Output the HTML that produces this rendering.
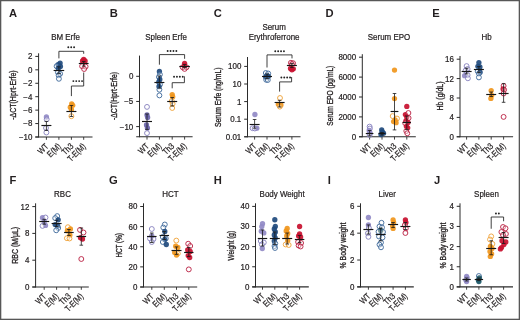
<!DOCTYPE html>
<html><head><meta charset="utf-8"><style>
html,body{margin:0;padding:0;background:#fff;}
#fig{position:relative;width:520px;height:320px;overflow:hidden;background:#fff;}
svg{display:block;will-change:transform;}
svg text{font-family:"Liberation Sans", sans-serif;fill:#231f20;}
svg text.t{stroke:#231f20;stroke-width:0.22px;}
svg text.yt{stroke:#231f20;stroke-width:0.32px;}
</style></head><body><div id="fig">
<svg width="520" height="320" viewBox="0 0 520 320">
<rect x="0" y="0" width="520" height="320" fill="#fff"/>
<rect x="0" y="0" width="520" height="1.25" fill="#575757"/>
<rect x="0" y="0" width="1.3" height="320" fill="#575757"/>
<rect x="518.7" y="0" width="1.3" height="320" fill="#575757"/>
<rect x="0" y="318.7" width="520" height="1.3" fill="#575757"/>
<text transform="translate(9.00,16.50) scale(1.0,1)" font-size="11.2" text-anchor="start" font-weight="bold" >A</text>
<text transform="translate(65.50,39.80) scale(0.96,1)" font-size="8.3" text-anchor="middle" font-weight="normal" class="t" >BM Erfe</text>
<text transform="translate(16.00,95.10) rotate(-90)" font-size="8.9" class="yt" text-anchor="middle" textLength="49.5" lengthAdjust="spacingAndGlyphs">-ΔCT(Hprt-Erfe)</text>
<line x1="38.60" y1="53.30" x2="38.60" y2="137.45" stroke="#2b2b2b" stroke-width="1.0"/>
<line x1="35.30" y1="137.00" x2="92.50" y2="137.00" stroke="#2b2b2b" stroke-width="1.1"/>
<line x1="35.30" y1="56.40" x2="38.60" y2="56.40" stroke="#2b2b2b" stroke-width="1.0"/>
<text transform="translate(32.40,59.30) scale(0.97,1)" font-size="8.2" text-anchor="end" font-weight="normal" class="t" >2</text>
<line x1="35.30" y1="69.83" x2="38.60" y2="69.83" stroke="#2b2b2b" stroke-width="1.0"/>
<text transform="translate(32.40,72.73) scale(0.97,1)" font-size="8.2" text-anchor="end" font-weight="normal" class="t" >0</text>
<line x1="35.30" y1="83.27" x2="38.60" y2="83.27" stroke="#2b2b2b" stroke-width="1.0"/>
<text transform="translate(32.40,86.17) scale(0.97,1)" font-size="8.2" text-anchor="end" font-weight="normal" class="t" >−2</text>
<line x1="35.30" y1="96.70" x2="38.60" y2="96.70" stroke="#2b2b2b" stroke-width="1.0"/>
<text transform="translate(32.40,99.60) scale(0.97,1)" font-size="8.2" text-anchor="end" font-weight="normal" class="t" >−4</text>
<line x1="35.30" y1="110.13" x2="38.60" y2="110.13" stroke="#2b2b2b" stroke-width="1.0"/>
<text transform="translate(32.40,113.03) scale(0.97,1)" font-size="8.2" text-anchor="end" font-weight="normal" class="t" >−6</text>
<line x1="35.30" y1="123.57" x2="38.60" y2="123.57" stroke="#2b2b2b" stroke-width="1.0"/>
<text transform="translate(32.40,126.47) scale(0.97,1)" font-size="8.2" text-anchor="end" font-weight="normal" class="t" >−8</text>
<line x1="35.30" y1="137.00" x2="38.60" y2="137.00" stroke="#2b2b2b" stroke-width="1.0"/>
<text transform="translate(32.40,139.90) scale(0.97,1)" font-size="8.2" text-anchor="end" font-weight="normal" class="t" >−10</text>
<line x1="46.40" y1="137.00" x2="46.40" y2="139.80" stroke="#2b2b2b" stroke-width="0.9"/>
<text transform="translate(49.00,146.80) rotate(-45) scale(0.81,1)" font-size="8.8" class="t" text-anchor="end">WT</text>
<line x1="58.90" y1="137.00" x2="58.90" y2="139.80" stroke="#2b2b2b" stroke-width="0.9"/>
<text transform="translate(61.50,146.80) rotate(-45) scale(0.81,1)" font-size="8.8" class="t" text-anchor="end">E(M)</text>
<line x1="71.40" y1="137.00" x2="71.40" y2="139.80" stroke="#2b2b2b" stroke-width="0.9"/>
<text transform="translate(74.00,146.80) rotate(-45) scale(0.81,1)" font-size="8.8" class="t" text-anchor="end">Th3</text>
<line x1="83.70" y1="137.00" x2="83.70" y2="139.80" stroke="#2b2b2b" stroke-width="0.9"/>
<text transform="translate(86.30,146.80) rotate(-45) scale(0.81,1)" font-size="8.8" class="t" text-anchor="end">T-E(M)</text>
<circle cx="46.40" cy="117.00" r="2.65" fill="#918ac6" fill-opacity="0.92"/>
<circle cx="46.70" cy="119.30" r="2.45" fill="white" fill-opacity="0.35" stroke="#857fbd" stroke-width="0.9"/>
<circle cx="46.00" cy="128.00" r="2.45" fill="white" fill-opacity="0.35" stroke="#857fbd" stroke-width="0.9"/>
<circle cx="46.40" cy="132.50" r="2.45" fill="white" fill-opacity="0.35" stroke="#857fbd" stroke-width="0.9"/>
<circle cx="60.10" cy="63.10" r="2.65" fill="#1f4a7d" fill-opacity="0.92"/>
<circle cx="58.10" cy="64.60" r="2.65" fill="#1f4a7d" fill-opacity="0.92"/>
<circle cx="56.60" cy="66.20" r="2.45" fill="white" fill-opacity="0.35" stroke="#3b6699" stroke-width="0.9"/>
<circle cx="60.40" cy="66.50" r="2.65" fill="#1f4a7d" fill-opacity="0.92"/>
<circle cx="58.30" cy="68.20" r="2.65" fill="#1f4a7d" fill-opacity="0.92"/>
<circle cx="57.90" cy="72.30" r="2.45" fill="white" fill-opacity="0.35" stroke="#3b6699" stroke-width="0.9"/>
<circle cx="60.10" cy="73.80" r="2.45" fill="white" fill-opacity="0.35" stroke="#3b6699" stroke-width="0.9"/>
<circle cx="58.60" cy="75.20" r="2.45" fill="white" fill-opacity="0.35" stroke="#3b6699" stroke-width="0.9"/>
<circle cx="58.90" cy="78.80" r="2.45" fill="white" fill-opacity="0.35" stroke="#3b6699" stroke-width="0.9"/>
<circle cx="71.70" cy="103.90" r="2.65" fill="#f0961c" fill-opacity="0.92"/>
<circle cx="72.70" cy="105.30" r="2.65" fill="#f0961c" fill-opacity="0.92"/>
<circle cx="70.30" cy="107.20" r="2.65" fill="#f0961c" fill-opacity="0.92"/>
<circle cx="71.40" cy="109.50" r="2.65" fill="#f0961c" fill-opacity="0.92"/>
<circle cx="71.40" cy="116.20" r="2.45" fill="white" fill-opacity="0.35" stroke="#efa035" stroke-width="0.9"/>
<circle cx="83.70" cy="59.30" r="2.65" fill="#c8102f" fill-opacity="0.92"/>
<circle cx="82.50" cy="60.90" r="2.65" fill="#c8102f" fill-opacity="0.92"/>
<circle cx="85.10" cy="61.00" r="2.65" fill="#c8102f" fill-opacity="0.92"/>
<circle cx="82.10" cy="66.20" r="2.45" fill="white" fill-opacity="0.35" stroke="#b91d40" stroke-width="0.9"/>
<circle cx="85.60" cy="66.60" r="2.45" fill="white" fill-opacity="0.35" stroke="#b91d40" stroke-width="0.9"/>
<circle cx="84.10" cy="69.00" r="2.45" fill="white" fill-opacity="0.35" stroke="#b91d40" stroke-width="0.9"/>
<line x1="41.40" y1="125.50" x2="51.40" y2="125.50" stroke="#151515" stroke-width="1.15"/>
<line x1="46.40" y1="121.40" x2="46.40" y2="130.40" stroke="#1a1a1a" stroke-width="0.8"/>
<line x1="44.60" y1="121.40" x2="48.20" y2="121.40" stroke="#1a1a1a" stroke-width="0.8"/>
<line x1="44.60" y1="130.40" x2="48.20" y2="130.40" stroke="#1a1a1a" stroke-width="0.8"/>
<line x1="53.60" y1="70.50" x2="64.20" y2="70.50" stroke="#151515" stroke-width="1.15"/>
<line x1="58.90" y1="66.80" x2="58.90" y2="73.60" stroke="#1a1a1a" stroke-width="0.8"/>
<line x1="57.10" y1="66.80" x2="60.70" y2="66.80" stroke="#1a1a1a" stroke-width="0.8"/>
<line x1="57.10" y1="73.60" x2="60.70" y2="73.60" stroke="#1a1a1a" stroke-width="0.8"/>
<line x1="66.40" y1="111.50" x2="76.40" y2="111.50" stroke="#151515" stroke-width="1.15"/>
<line x1="71.40" y1="105.50" x2="71.40" y2="116.50" stroke="#1a1a1a" stroke-width="0.8"/>
<line x1="69.60" y1="105.50" x2="73.20" y2="105.50" stroke="#1a1a1a" stroke-width="0.8"/>
<line x1="69.60" y1="116.50" x2="73.20" y2="116.50" stroke="#1a1a1a" stroke-width="0.8"/>
<line x1="78.80" y1="63.50" x2="88.60" y2="63.50" stroke="#151515" stroke-width="1.15"/>
<line x1="83.70" y1="61.50" x2="83.70" y2="66.00" stroke="#1a1a1a" stroke-width="0.8"/>
<line x1="81.90" y1="61.50" x2="85.50" y2="61.50" stroke="#1a1a1a" stroke-width="0.8"/>
<line x1="81.90" y1="66.00" x2="85.50" y2="66.00" stroke="#1a1a1a" stroke-width="0.8"/>
<polyline points="58.90,58.40 58.90,51.30 83.70,51.30 83.70,53.80" fill="none" stroke="#2b2b2b" stroke-width="0.9"/>
<circle cx="68.30" cy="47.30" r="0.95" fill="#222"/>
<circle cx="71.20" cy="47.30" r="0.95" fill="#222"/>
<circle cx="74.10" cy="47.30" r="0.95" fill="#222"/>
<polyline points="71.40,96.10 71.40,86.00 83.70,86.00 83.70,72.50" fill="none" stroke="#2b2b2b" stroke-width="0.9"/>
<circle cx="73.35" cy="81.10" r="0.95" fill="#222"/>
<circle cx="76.25" cy="81.10" r="0.95" fill="#222"/>
<circle cx="79.15" cy="81.10" r="0.95" fill="#222"/>
<circle cx="82.05" cy="81.10" r="0.95" fill="#222"/>
<text transform="translate(109.80,16.50) scale(1.0,1)" font-size="11.2" text-anchor="start" font-weight="bold" >B</text>
<text transform="translate(166.10,39.80) scale(0.96,1)" font-size="8.3" text-anchor="middle" font-weight="normal" class="t" >Spleen Erfe</text>
<text transform="translate(116.70,96.00) rotate(-90)" font-size="8.9" class="yt" text-anchor="middle" textLength="48" lengthAdjust="spacingAndGlyphs">-ΔCT(Hprt-Erfe)</text>
<line x1="139.50" y1="55.60" x2="139.50" y2="137.25" stroke="#2b2b2b" stroke-width="1.0"/>
<line x1="136.20" y1="136.80" x2="192.60" y2="136.80" stroke="#2b2b2b" stroke-width="1.1"/>
<line x1="136.20" y1="76.30" x2="139.50" y2="76.30" stroke="#2b2b2b" stroke-width="1.0"/>
<text transform="translate(133.30,79.20) scale(0.97,1)" font-size="8.2" text-anchor="end" font-weight="normal" class="t" >0</text>
<line x1="136.20" y1="101.45" x2="139.50" y2="101.45" stroke="#2b2b2b" stroke-width="1.0"/>
<text transform="translate(133.30,104.35) scale(0.97,1)" font-size="8.2" text-anchor="end" font-weight="normal" class="t" >−5</text>
<line x1="136.20" y1="126.60" x2="139.50" y2="126.60" stroke="#2b2b2b" stroke-width="1.0"/>
<text transform="translate(133.30,129.50) scale(0.97,1)" font-size="8.2" text-anchor="end" font-weight="normal" class="t" >−10</text>
<line x1="147.00" y1="136.80" x2="147.00" y2="139.60" stroke="#2b2b2b" stroke-width="0.9"/>
<text transform="translate(149.60,146.60) rotate(-45) scale(0.81,1)" font-size="8.8" class="t" text-anchor="end">WT</text>
<line x1="159.40" y1="136.80" x2="159.40" y2="139.60" stroke="#2b2b2b" stroke-width="0.9"/>
<text transform="translate(162.00,146.60) rotate(-45) scale(0.81,1)" font-size="8.8" class="t" text-anchor="end">E(M)</text>
<line x1="172.20" y1="136.80" x2="172.20" y2="139.60" stroke="#2b2b2b" stroke-width="0.9"/>
<text transform="translate(174.80,146.60) rotate(-45) scale(0.81,1)" font-size="8.8" class="t" text-anchor="end">Th3</text>
<line x1="184.60" y1="136.80" x2="184.60" y2="139.60" stroke="#2b2b2b" stroke-width="0.9"/>
<text transform="translate(187.20,146.60) rotate(-45) scale(0.81,1)" font-size="8.8" class="t" text-anchor="end">T-E(M)</text>
<circle cx="147.00" cy="106.90" r="2.45" fill="white" fill-opacity="0.35" stroke="#857fbd" stroke-width="0.9"/>
<circle cx="147.00" cy="115.00" r="2.65" fill="#6c66ac" fill-opacity="0.92"/>
<circle cx="147.60" cy="117.50" r="2.65" fill="#6c66ac" fill-opacity="0.92"/>
<circle cx="146.50" cy="125.00" r="2.65" fill="#6c66ac" fill-opacity="0.92"/>
<circle cx="147.40" cy="128.00" r="2.65" fill="#6c66ac" fill-opacity="0.92"/>
<circle cx="147.00" cy="133.10" r="2.45" fill="white" fill-opacity="0.35" stroke="#857fbd" stroke-width="0.9"/>
<circle cx="159.40" cy="71.50" r="2.65" fill="#1f4a7d" fill-opacity="0.92"/>
<circle cx="159.90" cy="74.50" r="2.45" fill="white" fill-opacity="0.35" stroke="#3b6699" stroke-width="0.9"/>
<circle cx="158.90" cy="77.00" r="2.45" fill="white" fill-opacity="0.35" stroke="#3b6699" stroke-width="0.9"/>
<circle cx="159.80" cy="79.50" r="2.65" fill="#1f4a7d" fill-opacity="0.92"/>
<circle cx="158.80" cy="82.00" r="2.65" fill="#1f4a7d" fill-opacity="0.92"/>
<circle cx="160.00" cy="84.50" r="2.45" fill="white" fill-opacity="0.35" stroke="#3b6699" stroke-width="0.9"/>
<circle cx="159.00" cy="86.50" r="2.65" fill="#1f4a7d" fill-opacity="0.92"/>
<circle cx="159.40" cy="89.70" r="2.45" fill="white" fill-opacity="0.35" stroke="#3b6699" stroke-width="0.9"/>
<circle cx="159.40" cy="95.40" r="2.45" fill="white" fill-opacity="0.35" stroke="#3b6699" stroke-width="0.9"/>
<circle cx="172.20" cy="94.60" r="2.65" fill="#f0961c" fill-opacity="0.92"/>
<circle cx="172.70" cy="96.80" r="2.65" fill="#f0961c" fill-opacity="0.92"/>
<circle cx="171.80" cy="101.00" r="2.45" fill="white" fill-opacity="0.35" stroke="#efa035" stroke-width="0.9"/>
<circle cx="172.60" cy="103.80" r="2.45" fill="white" fill-opacity="0.35" stroke="#efa035" stroke-width="0.9"/>
<circle cx="172.20" cy="108.00" r="2.45" fill="white" fill-opacity="0.35" stroke="#efa035" stroke-width="0.9"/>
<circle cx="184.60" cy="63.30" r="2.65" fill="#c8102f" fill-opacity="0.92"/>
<circle cx="182.70" cy="67.30" r="2.45" fill="white" fill-opacity="0.35" stroke="#b91d40" stroke-width="0.9"/>
<circle cx="186.50" cy="67.30" r="2.45" fill="white" fill-opacity="0.35" stroke="#b91d40" stroke-width="0.9"/>
<circle cx="184.60" cy="68.90" r="2.45" fill="white" fill-opacity="0.35" stroke="#b91d40" stroke-width="0.9"/>
<circle cx="184.60" cy="65.60" r="2.65" fill="#c8102f" fill-opacity="0.92"/>
<line x1="142.00" y1="121.50" x2="152.00" y2="121.50" stroke="#151515" stroke-width="1.15"/>
<line x1="147.00" y1="114.00" x2="147.00" y2="129.40" stroke="#1a1a1a" stroke-width="0.8"/>
<line x1="145.20" y1="114.00" x2="148.80" y2="114.00" stroke="#1a1a1a" stroke-width="0.8"/>
<line x1="145.20" y1="129.40" x2="148.80" y2="129.40" stroke="#1a1a1a" stroke-width="0.8"/>
<line x1="154.40" y1="82.50" x2="164.40" y2="82.50" stroke="#151515" stroke-width="1.15"/>
<line x1="159.40" y1="76.00" x2="159.40" y2="88.00" stroke="#1a1a1a" stroke-width="0.8"/>
<line x1="157.60" y1="76.00" x2="161.20" y2="76.00" stroke="#1a1a1a" stroke-width="0.8"/>
<line x1="157.60" y1="88.00" x2="161.20" y2="88.00" stroke="#1a1a1a" stroke-width="0.8"/>
<line x1="167.20" y1="101.50" x2="177.20" y2="101.50" stroke="#151515" stroke-width="1.15"/>
<line x1="172.20" y1="97.50" x2="172.20" y2="106.00" stroke="#1a1a1a" stroke-width="0.8"/>
<line x1="170.40" y1="97.50" x2="174.00" y2="97.50" stroke="#1a1a1a" stroke-width="0.8"/>
<line x1="170.40" y1="106.00" x2="174.00" y2="106.00" stroke="#1a1a1a" stroke-width="0.8"/>
<line x1="179.30" y1="66.50" x2="189.90" y2="66.50" stroke="#151515" stroke-width="1.15"/>
<line x1="184.60" y1="64.50" x2="184.60" y2="67.80" stroke="#1a1a1a" stroke-width="0.8"/>
<line x1="182.80" y1="64.50" x2="186.40" y2="64.50" stroke="#1a1a1a" stroke-width="0.8"/>
<line x1="182.80" y1="67.80" x2="186.40" y2="67.80" stroke="#1a1a1a" stroke-width="0.8"/>
<polyline points="159.40,64.70 159.40,54.60 184.60,54.60 184.60,58.80" fill="none" stroke="#2b2b2b" stroke-width="0.9"/>
<circle cx="167.65" cy="51.00" r="0.95" fill="#222"/>
<circle cx="170.55" cy="51.00" r="0.95" fill="#222"/>
<circle cx="173.45" cy="51.00" r="0.95" fill="#222"/>
<circle cx="176.35" cy="51.00" r="0.95" fill="#222"/>
<polyline points="172.20,88.30 172.20,82.70 184.40,82.70 184.40,76.30" fill="none" stroke="#2b2b2b" stroke-width="0.9"/>
<circle cx="174.05" cy="76.70" r="0.95" fill="#222"/>
<circle cx="176.95" cy="76.70" r="0.95" fill="#222"/>
<circle cx="179.85" cy="76.70" r="0.95" fill="#222"/>
<circle cx="182.75" cy="76.70" r="0.95" fill="#222"/>
<text transform="translate(213.75,16.50) scale(1.0,1)" font-size="11.2" text-anchor="start" font-weight="bold" >C</text>
<text transform="translate(274.10,30.10) scale(0.96,1)" font-size="8.3" text-anchor="middle" font-weight="normal" class="t" >Serum</text>
<text transform="translate(274.10,40.30) scale(0.96,1)" font-size="8.3" text-anchor="middle" font-weight="normal" class="t" >Erythroferrone</text>
<text transform="translate(220.60,97.30) rotate(-90)" font-size="8.9" class="yt" text-anchor="middle" textLength="59.5" lengthAdjust="spacingAndGlyphs">Serum Erfe (ng/mL)</text>
<line x1="247.50" y1="57.00" x2="247.50" y2="137.25" stroke="#2b2b2b" stroke-width="1.0"/>
<line x1="244.20" y1="136.80" x2="300.50" y2="136.80" stroke="#2b2b2b" stroke-width="1.1"/>
<line x1="244.20" y1="66.40" x2="247.50" y2="66.40" stroke="#2b2b2b" stroke-width="1.0"/>
<text transform="translate(241.30,69.30) scale(0.97,1)" font-size="8.2" text-anchor="end" font-weight="normal" class="t" >100</text>
<line x1="244.20" y1="84.00" x2="247.50" y2="84.00" stroke="#2b2b2b" stroke-width="1.0"/>
<text transform="translate(241.30,86.90) scale(0.97,1)" font-size="8.2" text-anchor="end" font-weight="normal" class="t" >10</text>
<line x1="244.20" y1="101.60" x2="247.50" y2="101.60" stroke="#2b2b2b" stroke-width="1.0"/>
<text transform="translate(241.30,104.50) scale(0.97,1)" font-size="8.2" text-anchor="end" font-weight="normal" class="t" >1</text>
<line x1="244.20" y1="119.20" x2="247.50" y2="119.20" stroke="#2b2b2b" stroke-width="1.0"/>
<text transform="translate(241.30,122.10) scale(0.97,1)" font-size="8.2" text-anchor="end" font-weight="normal" class="t" >0.1</text>
<line x1="244.20" y1="136.80" x2="247.50" y2="136.80" stroke="#2b2b2b" stroke-width="1.0"/>
<text transform="translate(241.30,139.70) scale(0.97,1)" font-size="8.2" text-anchor="end" font-weight="normal" class="t" >0.01</text>
<line x1="254.60" y1="136.80" x2="254.60" y2="139.60" stroke="#2b2b2b" stroke-width="0.9"/>
<text transform="translate(257.20,146.60) rotate(-45) scale(0.81,1)" font-size="8.8" class="t" text-anchor="end">WT</text>
<line x1="267.00" y1="136.80" x2="267.00" y2="139.60" stroke="#2b2b2b" stroke-width="0.9"/>
<text transform="translate(269.60,146.60) rotate(-45) scale(0.81,1)" font-size="8.8" class="t" text-anchor="end">E(M)</text>
<line x1="279.60" y1="136.80" x2="279.60" y2="139.60" stroke="#2b2b2b" stroke-width="0.9"/>
<text transform="translate(282.20,146.60) rotate(-45) scale(0.81,1)" font-size="8.8" class="t" text-anchor="end">Th3</text>
<line x1="291.90" y1="136.80" x2="291.90" y2="139.60" stroke="#2b2b2b" stroke-width="0.9"/>
<text transform="translate(294.50,146.60) rotate(-45) scale(0.81,1)" font-size="8.8" class="t" text-anchor="end">T-E(M)</text>
<circle cx="254.90" cy="114.50" r="2.65" fill="#918ac6" fill-opacity="0.92"/>
<circle cx="252.60" cy="128.20" r="2.45" fill="white" fill-opacity="0.35" stroke="#857fbd" stroke-width="0.9"/>
<circle cx="256.80" cy="128.20" r="2.65" fill="#918ac6" fill-opacity="0.92"/>
<circle cx="254.80" cy="128.50" r="2.45" fill="white" fill-opacity="0.35" stroke="#857fbd" stroke-width="0.9"/>
<circle cx="265.80" cy="73.00" r="2.45" fill="white" fill-opacity="0.35" stroke="#3b6699" stroke-width="0.9"/>
<circle cx="268.20" cy="73.50" r="2.45" fill="white" fill-opacity="0.35" stroke="#3b6699" stroke-width="0.9"/>
<circle cx="267.00" cy="75.50" r="2.45" fill="white" fill-opacity="0.35" stroke="#3b6699" stroke-width="0.9"/>
<circle cx="265.70" cy="77.00" r="2.65" fill="#1f4a7d" fill-opacity="0.92"/>
<circle cx="268.30" cy="76.50" r="2.65" fill="#1f4a7d" fill-opacity="0.92"/>
<circle cx="267.00" cy="77.50" r="2.65" fill="#1f4a7d" fill-opacity="0.92"/>
<circle cx="266.20" cy="79.80" r="2.45" fill="white" fill-opacity="0.35" stroke="#3b6699" stroke-width="0.9"/>
<circle cx="267.80" cy="80.00" r="2.45" fill="white" fill-opacity="0.35" stroke="#3b6699" stroke-width="0.9"/>
<circle cx="280.00" cy="98.00" r="2.45" fill="white" fill-opacity="0.35" stroke="#efa035" stroke-width="0.9"/>
<circle cx="278.40" cy="104.30" r="2.65" fill="#f0961c" fill-opacity="0.92"/>
<circle cx="280.90" cy="105.00" r="2.65" fill="#f0961c" fill-opacity="0.92"/>
<circle cx="279.80" cy="106.60" r="2.45" fill="white" fill-opacity="0.35" stroke="#efa035" stroke-width="0.9"/>
<circle cx="290.90" cy="62.80" r="2.45" fill="white" fill-opacity="0.35" stroke="#b91d40" stroke-width="0.9"/>
<circle cx="293.10" cy="63.20" r="2.45" fill="white" fill-opacity="0.35" stroke="#b91d40" stroke-width="0.9"/>
<circle cx="291.90" cy="64.20" r="2.45" fill="white" fill-opacity="0.35" stroke="#b91d40" stroke-width="0.9"/>
<circle cx="290.50" cy="68.50" r="2.65" fill="#c8102f" fill-opacity="0.92"/>
<circle cx="293.30" cy="68.80" r="2.65" fill="#c8102f" fill-opacity="0.92"/>
<circle cx="291.90" cy="69.80" r="2.65" fill="#c8102f" fill-opacity="0.92"/>
<line x1="249.60" y1="124.50" x2="259.60" y2="124.50" stroke="#151515" stroke-width="1.15"/>
<line x1="254.60" y1="119.50" x2="254.60" y2="128.20" stroke="#1a1a1a" stroke-width="0.8"/>
<line x1="252.80" y1="119.50" x2="256.40" y2="119.50" stroke="#1a1a1a" stroke-width="0.8"/>
<line x1="252.80" y1="128.20" x2="256.40" y2="128.20" stroke="#1a1a1a" stroke-width="0.8"/>
<line x1="262.00" y1="76.50" x2="272.00" y2="76.50" stroke="#151515" stroke-width="1.15"/>
<line x1="267.00" y1="74.00" x2="267.00" y2="78.50" stroke="#1a1a1a" stroke-width="0.8"/>
<line x1="265.20" y1="74.00" x2="268.80" y2="74.00" stroke="#1a1a1a" stroke-width="0.8"/>
<line x1="265.20" y1="78.50" x2="268.80" y2="78.50" stroke="#1a1a1a" stroke-width="0.8"/>
<line x1="274.60" y1="102.50" x2="284.60" y2="102.50" stroke="#151515" stroke-width="1.15"/>
<line x1="279.60" y1="100.30" x2="279.60" y2="107.00" stroke="#1a1a1a" stroke-width="0.8"/>
<line x1="277.80" y1="100.30" x2="281.40" y2="100.30" stroke="#1a1a1a" stroke-width="0.8"/>
<line x1="277.80" y1="107.00" x2="281.40" y2="107.00" stroke="#1a1a1a" stroke-width="0.8"/>
<line x1="286.90" y1="65.50" x2="296.90" y2="65.50" stroke="#151515" stroke-width="1.15"/>
<line x1="291.90" y1="63.50" x2="291.90" y2="67.50" stroke="#1a1a1a" stroke-width="0.8"/>
<line x1="290.10" y1="63.50" x2="293.70" y2="63.50" stroke="#1a1a1a" stroke-width="0.8"/>
<line x1="290.10" y1="67.50" x2="293.70" y2="67.50" stroke="#1a1a1a" stroke-width="0.8"/>
<polyline points="267.00,67.50 267.00,54.90 292.00,54.90 292.00,58.40" fill="none" stroke="#2b2b2b" stroke-width="0.9"/>
<circle cx="275.25" cy="51.30" r="0.95" fill="#222"/>
<circle cx="278.15" cy="51.30" r="0.95" fill="#222"/>
<circle cx="281.05" cy="51.30" r="0.95" fill="#222"/>
<circle cx="283.95" cy="51.30" r="0.95" fill="#222"/>
<polyline points="279.60,91.60 279.60,81.90 291.60,81.90 291.60,77.00" fill="none" stroke="#2b2b2b" stroke-width="0.9"/>
<circle cx="281.35" cy="77.50" r="0.95" fill="#222"/>
<circle cx="284.25" cy="77.50" r="0.95" fill="#222"/>
<circle cx="287.15" cy="77.50" r="0.95" fill="#222"/>
<circle cx="290.05" cy="77.50" r="0.95" fill="#222"/>
<text transform="translate(325.60,16.50) scale(1.0,1)" font-size="11.2" text-anchor="start" font-weight="bold" >D</text>
<text transform="translate(389.00,39.80) scale(0.96,1)" font-size="8.3" text-anchor="middle" font-weight="normal" class="t" >Serum EPO</text>
<text transform="translate(333.40,95.70) rotate(-90)" font-size="8.9" class="yt" text-anchor="middle" textLength="60" lengthAdjust="spacingAndGlyphs">Serum EPO (pg/mL)</text>
<line x1="362.30" y1="54.20" x2="362.30" y2="137.25" stroke="#2b2b2b" stroke-width="1.0"/>
<line x1="359.00" y1="136.80" x2="415.80" y2="136.80" stroke="#2b2b2b" stroke-width="1.1"/>
<line x1="359.00" y1="57.20" x2="362.30" y2="57.20" stroke="#2b2b2b" stroke-width="1.0"/>
<text transform="translate(356.10,60.10) scale(0.97,1)" font-size="8.2" text-anchor="end" font-weight="normal" class="t" >8000</text>
<line x1="359.00" y1="77.10" x2="362.30" y2="77.10" stroke="#2b2b2b" stroke-width="1.0"/>
<text transform="translate(356.10,80.00) scale(0.97,1)" font-size="8.2" text-anchor="end" font-weight="normal" class="t" >6000</text>
<line x1="359.00" y1="97.00" x2="362.30" y2="97.00" stroke="#2b2b2b" stroke-width="1.0"/>
<text transform="translate(356.10,99.90) scale(0.97,1)" font-size="8.2" text-anchor="end" font-weight="normal" class="t" >4000</text>
<line x1="359.00" y1="116.90" x2="362.30" y2="116.90" stroke="#2b2b2b" stroke-width="1.0"/>
<text transform="translate(356.10,119.80) scale(0.97,1)" font-size="8.2" text-anchor="end" font-weight="normal" class="t" >2000</text>
<line x1="359.00" y1="136.80" x2="362.30" y2="136.80" stroke="#2b2b2b" stroke-width="1.0"/>
<text transform="translate(356.10,139.70) scale(0.97,1)" font-size="8.2" text-anchor="end" font-weight="normal" class="t" >0</text>
<line x1="369.60" y1="136.80" x2="369.60" y2="139.60" stroke="#2b2b2b" stroke-width="0.9"/>
<text transform="translate(372.20,146.60) rotate(-45) scale(0.81,1)" font-size="8.8" class="t" text-anchor="end">WT</text>
<line x1="382.00" y1="136.80" x2="382.00" y2="139.60" stroke="#2b2b2b" stroke-width="0.9"/>
<text transform="translate(384.60,146.60) rotate(-45) scale(0.81,1)" font-size="8.8" class="t" text-anchor="end">E(M)</text>
<line x1="394.50" y1="136.80" x2="394.50" y2="139.60" stroke="#2b2b2b" stroke-width="0.9"/>
<text transform="translate(397.10,146.60) rotate(-45) scale(0.81,1)" font-size="8.8" class="t" text-anchor="end">Th3</text>
<line x1="406.80" y1="136.80" x2="406.80" y2="139.60" stroke="#2b2b2b" stroke-width="0.9"/>
<text transform="translate(409.40,146.60) rotate(-45) scale(0.81,1)" font-size="8.8" class="t" text-anchor="end">T-E(M)</text>
<circle cx="369.60" cy="126.60" r="2.45" fill="white" fill-opacity="0.35" stroke="#857fbd" stroke-width="0.9"/>
<circle cx="369.90" cy="128.50" r="2.45" fill="white" fill-opacity="0.35" stroke="#857fbd" stroke-width="0.9"/>
<circle cx="369.20" cy="130.40" r="2.65" fill="#918ac6" fill-opacity="0.92"/>
<circle cx="370.10" cy="133.00" r="2.65" fill="#918ac6" fill-opacity="0.92"/>
<circle cx="369.60" cy="135.00" r="2.45" fill="white" fill-opacity="0.35" stroke="#857fbd" stroke-width="0.9"/>
<circle cx="381.70" cy="130.00" r="2.65" fill="#1f4a7d" fill-opacity="0.92"/>
<circle cx="383.50" cy="133.20" r="2.65" fill="#1f4a7d" fill-opacity="0.92"/>
<circle cx="381.00" cy="134.50" r="2.65" fill="#1f4a7d" fill-opacity="0.92"/>
<circle cx="382.30" cy="132.00" r="2.65" fill="#1f4a7d" fill-opacity="0.92"/>
<circle cx="394.50" cy="70.10" r="2.65" fill="#f0961c" fill-opacity="0.92"/>
<circle cx="394.50" cy="98.60" r="2.65" fill="#f0961c" fill-opacity="0.92"/>
<circle cx="392.70" cy="116.10" r="2.45" fill="white" fill-opacity="0.35" stroke="#efa035" stroke-width="0.9"/>
<circle cx="397.00" cy="118.50" r="2.45" fill="white" fill-opacity="0.35" stroke="#efa035" stroke-width="0.9"/>
<circle cx="395.10" cy="120.00" r="2.65" fill="#f0961c" fill-opacity="0.92"/>
<circle cx="393.60" cy="121.60" r="2.65" fill="#f0961c" fill-opacity="0.92"/>
<circle cx="396.10" cy="122.70" r="2.65" fill="#f0961c" fill-opacity="0.92"/>
<circle cx="406.80" cy="106.40" r="2.65" fill="#c8102f" fill-opacity="0.92"/>
<circle cx="405.40" cy="114.60" r="2.65" fill="#c8102f" fill-opacity="0.92"/>
<circle cx="408.40" cy="113.00" r="2.45" fill="white" fill-opacity="0.35" stroke="#b91d40" stroke-width="0.9"/>
<circle cx="406.80" cy="116.90" r="2.65" fill="#c8102f" fill-opacity="0.92"/>
<circle cx="408.60" cy="118.00" r="2.45" fill="white" fill-opacity="0.35" stroke="#b91d40" stroke-width="0.9"/>
<circle cx="405.90" cy="120.80" r="2.65" fill="#c8102f" fill-opacity="0.92"/>
<circle cx="408.00" cy="122.40" r="2.65" fill="#c8102f" fill-opacity="0.92"/>
<circle cx="405.20" cy="123.20" r="2.45" fill="white" fill-opacity="0.35" stroke="#b91d40" stroke-width="0.9"/>
<circle cx="406.40" cy="126.30" r="2.65" fill="#c8102f" fill-opacity="0.92"/>
<circle cx="407.70" cy="127.80" r="2.65" fill="#c8102f" fill-opacity="0.92"/>
<circle cx="406.30" cy="131.00" r="2.45" fill="white" fill-opacity="0.35" stroke="#b91d40" stroke-width="0.9"/>
<circle cx="407.30" cy="133.30" r="2.45" fill="white" fill-opacity="0.35" stroke="#b91d40" stroke-width="0.9"/>
<line x1="365.80" y1="133.50" x2="373.40" y2="133.50" stroke="#151515" stroke-width="1.15"/>
<line x1="369.60" y1="130.50" x2="369.60" y2="135.80" stroke="#1a1a1a" stroke-width="0.8"/>
<line x1="367.80" y1="130.50" x2="371.40" y2="130.50" stroke="#1a1a1a" stroke-width="0.8"/>
<line x1="367.80" y1="135.80" x2="371.40" y2="135.80" stroke="#1a1a1a" stroke-width="0.8"/>
<line x1="378.50" y1="133.50" x2="385.50" y2="133.50" stroke="#151515" stroke-width="1.15"/>
<line x1="382.00" y1="132.50" x2="382.00" y2="135.00" stroke="#1a1a1a" stroke-width="0.8"/>
<line x1="380.20" y1="132.50" x2="383.80" y2="132.50" stroke="#1a1a1a" stroke-width="0.8"/>
<line x1="380.20" y1="135.00" x2="383.80" y2="135.00" stroke="#1a1a1a" stroke-width="0.8"/>
<line x1="390.60" y1="111.50" x2="398.40" y2="111.50" stroke="#151515" stroke-width="1.15"/>
<line x1="394.50" y1="93.50" x2="394.50" y2="129.90" stroke="#1a1a1a" stroke-width="0.8"/>
<line x1="392.70" y1="93.50" x2="396.30" y2="93.50" stroke="#1a1a1a" stroke-width="0.8"/>
<line x1="392.70" y1="129.90" x2="396.30" y2="129.90" stroke="#1a1a1a" stroke-width="0.8"/>
<line x1="402.60" y1="122.50" x2="411.00" y2="122.50" stroke="#151515" stroke-width="1.15"/>
<line x1="406.80" y1="116.00" x2="406.80" y2="129.60" stroke="#1a1a1a" stroke-width="0.8"/>
<line x1="405.00" y1="116.00" x2="408.60" y2="116.00" stroke="#1a1a1a" stroke-width="0.8"/>
<line x1="405.00" y1="129.60" x2="408.60" y2="129.60" stroke="#1a1a1a" stroke-width="0.8"/>
<text transform="translate(432.30,16.50) scale(1.0,1)" font-size="11.2" text-anchor="start" font-weight="bold" >E</text>
<text transform="translate(486.60,39.70) scale(0.96,1)" font-size="8.3" text-anchor="middle" font-weight="normal" class="t" >Hb</text>
<text transform="translate(443.00,96.00) rotate(-90)" font-size="8.9" class="yt" text-anchor="middle" textLength="29" lengthAdjust="spacingAndGlyphs">Hb (g/dL)</text>
<line x1="460.00" y1="56.00" x2="460.00" y2="137.25" stroke="#2b2b2b" stroke-width="1.0"/>
<line x1="456.70" y1="136.80" x2="513.10" y2="136.80" stroke="#2b2b2b" stroke-width="1.1"/>
<line x1="456.70" y1="59.20" x2="460.00" y2="59.20" stroke="#2b2b2b" stroke-width="1.0"/>
<text transform="translate(453.80,62.10) scale(0.97,1)" font-size="8.2" text-anchor="end" font-weight="normal" class="t" >16</text>
<line x1="456.70" y1="78.60" x2="460.00" y2="78.60" stroke="#2b2b2b" stroke-width="1.0"/>
<text transform="translate(453.80,81.50) scale(0.97,1)" font-size="8.2" text-anchor="end" font-weight="normal" class="t" >12</text>
<line x1="456.70" y1="98.00" x2="460.00" y2="98.00" stroke="#2b2b2b" stroke-width="1.0"/>
<text transform="translate(453.80,100.90) scale(0.97,1)" font-size="8.2" text-anchor="end" font-weight="normal" class="t" >8</text>
<line x1="456.70" y1="117.40" x2="460.00" y2="117.40" stroke="#2b2b2b" stroke-width="1.0"/>
<text transform="translate(453.80,120.30) scale(0.97,1)" font-size="8.2" text-anchor="end" font-weight="normal" class="t" >4</text>
<line x1="456.70" y1="136.80" x2="460.00" y2="136.80" stroke="#2b2b2b" stroke-width="1.0"/>
<text transform="translate(453.80,139.70) scale(0.97,1)" font-size="8.2" text-anchor="end" font-weight="normal" class="t" >0</text>
<line x1="466.60" y1="136.80" x2="466.60" y2="139.60" stroke="#2b2b2b" stroke-width="0.9"/>
<text transform="translate(469.20,146.60) rotate(-45) scale(0.81,1)" font-size="8.8" class="t" text-anchor="end">WT</text>
<line x1="478.90" y1="136.80" x2="478.90" y2="139.60" stroke="#2b2b2b" stroke-width="0.9"/>
<text transform="translate(481.50,146.60) rotate(-45) scale(0.81,1)" font-size="8.8" class="t" text-anchor="end">E(M)</text>
<line x1="491.20" y1="136.80" x2="491.20" y2="139.60" stroke="#2b2b2b" stroke-width="0.9"/>
<text transform="translate(493.80,146.60) rotate(-45) scale(0.81,1)" font-size="8.8" class="t" text-anchor="end">Th3</text>
<line x1="503.60" y1="136.80" x2="503.60" y2="139.60" stroke="#2b2b2b" stroke-width="0.9"/>
<text transform="translate(506.20,146.60) rotate(-45) scale(0.81,1)" font-size="8.8" class="t" text-anchor="end">T-E(M)</text>
<circle cx="466.60" cy="66.10" r="2.45" fill="white" fill-opacity="0.35" stroke="#857fbd" stroke-width="0.9"/>
<circle cx="467.60" cy="69.00" r="2.45" fill="white" fill-opacity="0.35" stroke="#857fbd" stroke-width="0.9"/>
<circle cx="465.60" cy="70.50" r="2.45" fill="white" fill-opacity="0.35" stroke="#857fbd" stroke-width="0.9"/>
<circle cx="464.60" cy="75.70" r="2.65" fill="#918ac6" fill-opacity="0.92"/>
<circle cx="467.60" cy="75.00" r="2.45" fill="white" fill-opacity="0.35" stroke="#857fbd" stroke-width="0.9"/>
<circle cx="467.90" cy="78.30" r="2.45" fill="white" fill-opacity="0.35" stroke="#857fbd" stroke-width="0.9"/>
<circle cx="478.90" cy="62.60" r="2.65" fill="#1f4a7d" fill-opacity="0.92"/>
<circle cx="477.90" cy="66.30" r="2.65" fill="#1f4a7d" fill-opacity="0.92"/>
<circle cx="479.90" cy="67.00" r="2.65" fill="#1f4a7d" fill-opacity="0.92"/>
<circle cx="477.70" cy="71.20" r="2.45" fill="white" fill-opacity="0.35" stroke="#3b6699" stroke-width="0.9"/>
<circle cx="480.10" cy="72.20" r="2.65" fill="#1f4a7d" fill-opacity="0.92"/>
<circle cx="478.90" cy="73.50" r="2.45" fill="white" fill-opacity="0.35" stroke="#3b6699" stroke-width="0.9"/>
<circle cx="478.90" cy="77.40" r="2.45" fill="white" fill-opacity="0.35" stroke="#3b6699" stroke-width="0.9"/>
<circle cx="491.20" cy="90.60" r="2.65" fill="#f0961c" fill-opacity="0.92"/>
<circle cx="491.70" cy="95.30" r="2.65" fill="#f0961c" fill-opacity="0.92"/>
<circle cx="490.90" cy="98.40" r="2.65" fill="#f0961c" fill-opacity="0.92"/>
<circle cx="503.60" cy="85.90" r="2.45" fill="white" fill-opacity="0.35" stroke="#b91d40" stroke-width="0.9"/>
<circle cx="503.10" cy="89.00" r="2.65" fill="#c8102f" fill-opacity="0.92"/>
<circle cx="504.10" cy="89.80" r="2.45" fill="white" fill-opacity="0.35" stroke="#b91d40" stroke-width="0.9"/>
<circle cx="503.60" cy="93.50" r="2.45" fill="white" fill-opacity="0.35" stroke="#b91d40" stroke-width="0.9"/>
<circle cx="503.60" cy="116.90" r="2.45" fill="white" fill-opacity="0.35" stroke="#b91d40" stroke-width="0.9"/>
<line x1="461.60" y1="71.50" x2="471.60" y2="71.50" stroke="#151515" stroke-width="1.15"/>
<line x1="466.60" y1="68.20" x2="466.60" y2="73.90" stroke="#1a1a1a" stroke-width="0.8"/>
<line x1="464.80" y1="68.20" x2="468.40" y2="68.20" stroke="#1a1a1a" stroke-width="0.8"/>
<line x1="464.80" y1="73.90" x2="468.40" y2="73.90" stroke="#1a1a1a" stroke-width="0.8"/>
<line x1="473.90" y1="69.50" x2="483.90" y2="69.50" stroke="#151515" stroke-width="1.15"/>
<line x1="478.90" y1="66.50" x2="478.90" y2="72.50" stroke="#1a1a1a" stroke-width="0.8"/>
<line x1="477.10" y1="66.50" x2="480.70" y2="66.50" stroke="#1a1a1a" stroke-width="0.8"/>
<line x1="477.10" y1="72.50" x2="480.70" y2="72.50" stroke="#1a1a1a" stroke-width="0.8"/>
<line x1="486.20" y1="94.50" x2="496.20" y2="94.50" stroke="#151515" stroke-width="1.15"/>
<line x1="491.20" y1="92.00" x2="491.20" y2="96.50" stroke="#1a1a1a" stroke-width="0.8"/>
<line x1="489.40" y1="92.00" x2="493.00" y2="92.00" stroke="#1a1a1a" stroke-width="0.8"/>
<line x1="489.40" y1="96.50" x2="493.00" y2="96.50" stroke="#1a1a1a" stroke-width="0.8"/>
<line x1="498.60" y1="93.50" x2="508.60" y2="93.50" stroke="#151515" stroke-width="1.15"/>
<line x1="503.60" y1="83.60" x2="503.60" y2="102.30" stroke="#1a1a1a" stroke-width="0.8"/>
<line x1="501.80" y1="83.60" x2="505.40" y2="83.60" stroke="#1a1a1a" stroke-width="0.8"/>
<line x1="501.80" y1="102.30" x2="505.40" y2="102.30" stroke="#1a1a1a" stroke-width="0.8"/>
<text transform="translate(9.60,183.80) scale(1.0,1)" font-size="11.2" text-anchor="start" font-weight="bold" >F</text>
<text transform="translate(62.50,196.80) scale(0.96,1)" font-size="8.3" text-anchor="middle" font-weight="normal" class="t" >RBC</text>
<text transform="translate(17.70,245.30) rotate(-90)" font-size="8.9" class="yt" text-anchor="middle" textLength="37" lengthAdjust="spacingAndGlyphs">RBC (M/μL)</text>
<line x1="35.60" y1="203.30" x2="35.60" y2="287.45" stroke="#2b2b2b" stroke-width="1.0"/>
<line x1="32.30" y1="287.00" x2="88.80" y2="287.00" stroke="#2b2b2b" stroke-width="1.1"/>
<line x1="32.30" y1="206.60" x2="35.60" y2="206.60" stroke="#2b2b2b" stroke-width="1.0"/>
<text transform="translate(29.40,209.50) scale(0.97,1)" font-size="8.2" text-anchor="end" font-weight="normal" class="t" >12</text>
<line x1="32.30" y1="233.40" x2="35.60" y2="233.40" stroke="#2b2b2b" stroke-width="1.0"/>
<text transform="translate(29.40,236.30) scale(0.97,1)" font-size="8.2" text-anchor="end" font-weight="normal" class="t" >8</text>
<line x1="32.30" y1="260.20" x2="35.60" y2="260.20" stroke="#2b2b2b" stroke-width="1.0"/>
<text transform="translate(29.40,263.10) scale(0.97,1)" font-size="8.2" text-anchor="end" font-weight="normal" class="t" >4</text>
<line x1="32.30" y1="287.00" x2="35.60" y2="287.00" stroke="#2b2b2b" stroke-width="1.0"/>
<text transform="translate(29.40,289.90) scale(0.97,1)" font-size="8.2" text-anchor="end" font-weight="normal" class="t" >0</text>
<line x1="44.20" y1="287.00" x2="44.20" y2="289.80" stroke="#2b2b2b" stroke-width="0.9"/>
<text transform="translate(46.80,296.80) rotate(-45) scale(0.81,1)" font-size="8.8" class="t" text-anchor="end">WT</text>
<line x1="56.60" y1="287.00" x2="56.60" y2="289.80" stroke="#2b2b2b" stroke-width="0.9"/>
<text transform="translate(59.20,296.80) rotate(-45) scale(0.81,1)" font-size="8.8" class="t" text-anchor="end">E(M)</text>
<line x1="68.90" y1="287.00" x2="68.90" y2="289.80" stroke="#2b2b2b" stroke-width="0.9"/>
<text transform="translate(71.50,296.80) rotate(-45) scale(0.81,1)" font-size="8.8" class="t" text-anchor="end">Th3</text>
<line x1="81.30" y1="287.00" x2="81.30" y2="289.80" stroke="#2b2b2b" stroke-width="0.9"/>
<text transform="translate(83.90,296.80) rotate(-45) scale(0.81,1)" font-size="8.8" class="t" text-anchor="end">T-E(M)</text>
<circle cx="42.50" cy="217.70" r="2.65" fill="#918ac6" fill-opacity="0.92"/>
<circle cx="45.50" cy="217.50" r="2.45" fill="white" fill-opacity="0.35" stroke="#857fbd" stroke-width="0.9"/>
<circle cx="44.20" cy="221.50" r="2.65" fill="#918ac6" fill-opacity="0.92"/>
<circle cx="45.50" cy="225.40" r="2.65" fill="#918ac6" fill-opacity="0.92"/>
<circle cx="42.50" cy="225.90" r="2.45" fill="white" fill-opacity="0.35" stroke="#857fbd" stroke-width="0.9"/>
<circle cx="57.20" cy="216.10" r="2.45" fill="white" fill-opacity="0.35" stroke="#3b6699" stroke-width="0.9"/>
<circle cx="55.20" cy="218.10" r="2.45" fill="white" fill-opacity="0.35" stroke="#3b6699" stroke-width="0.9"/>
<circle cx="58.20" cy="219.80" r="2.65" fill="#1f4a7d" fill-opacity="0.92"/>
<circle cx="55.20" cy="224.60" r="2.65" fill="#1f4a7d" fill-opacity="0.92"/>
<circle cx="57.70" cy="226.00" r="2.65" fill="#1f4a7d" fill-opacity="0.92"/>
<circle cx="58.20" cy="228.00" r="2.45" fill="white" fill-opacity="0.35" stroke="#3b6699" stroke-width="0.9"/>
<circle cx="56.20" cy="230.30" r="2.45" fill="white" fill-opacity="0.35" stroke="#3b6699" stroke-width="0.9"/>
<circle cx="67.90" cy="227.20" r="2.45" fill="white" fill-opacity="0.35" stroke="#efa035" stroke-width="0.9"/>
<circle cx="70.40" cy="229.00" r="2.65" fill="#f0961c" fill-opacity="0.92"/>
<circle cx="67.40" cy="230.70" r="2.65" fill="#f0961c" fill-opacity="0.92"/>
<circle cx="69.90" cy="235.10" r="2.65" fill="#f0961c" fill-opacity="0.92"/>
<circle cx="66.90" cy="238.20" r="2.45" fill="white" fill-opacity="0.35" stroke="#efa035" stroke-width="0.9"/>
<circle cx="69.50" cy="238.50" r="2.45" fill="white" fill-opacity="0.35" stroke="#efa035" stroke-width="0.9"/>
<circle cx="80.00" cy="229.90" r="2.45" fill="white" fill-opacity="0.35" stroke="#b91d40" stroke-width="0.9"/>
<circle cx="83.50" cy="232.50" r="2.45" fill="white" fill-opacity="0.35" stroke="#b91d40" stroke-width="0.9"/>
<circle cx="80.50" cy="237.70" r="2.65" fill="#c8102f" fill-opacity="0.92"/>
<circle cx="82.50" cy="239.00" r="2.65" fill="#c8102f" fill-opacity="0.92"/>
<circle cx="81.30" cy="259.00" r="2.45" fill="white" fill-opacity="0.35" stroke="#b91d40" stroke-width="0.9"/>
<line x1="39.20" y1="221.50" x2="49.20" y2="221.50" stroke="#151515" stroke-width="1.15"/>
<line x1="44.20" y1="219.30" x2="44.20" y2="224.20" stroke="#1a1a1a" stroke-width="0.8"/>
<line x1="42.40" y1="219.30" x2="46.00" y2="219.30" stroke="#1a1a1a" stroke-width="0.8"/>
<line x1="42.40" y1="224.20" x2="46.00" y2="224.20" stroke="#1a1a1a" stroke-width="0.8"/>
<line x1="51.60" y1="223.50" x2="61.60" y2="223.50" stroke="#151515" stroke-width="1.15"/>
<line x1="56.60" y1="220.30" x2="56.60" y2="226.50" stroke="#1a1a1a" stroke-width="0.8"/>
<line x1="54.80" y1="220.30" x2="58.40" y2="220.30" stroke="#1a1a1a" stroke-width="0.8"/>
<line x1="54.80" y1="226.50" x2="58.40" y2="226.50" stroke="#1a1a1a" stroke-width="0.8"/>
<line x1="64.10" y1="232.50" x2="73.70" y2="232.50" stroke="#151515" stroke-width="1.15"/>
<line x1="68.90" y1="229.50" x2="68.90" y2="235.50" stroke="#1a1a1a" stroke-width="0.8"/>
<line x1="67.10" y1="229.50" x2="70.70" y2="229.50" stroke="#1a1a1a" stroke-width="0.8"/>
<line x1="67.10" y1="235.50" x2="70.70" y2="235.50" stroke="#1a1a1a" stroke-width="0.8"/>
<line x1="76.50" y1="236.50" x2="86.10" y2="236.50" stroke="#151515" stroke-width="1.15"/>
<line x1="81.30" y1="228.00" x2="81.30" y2="245.20" stroke="#1a1a1a" stroke-width="0.8"/>
<line x1="79.50" y1="228.00" x2="83.10" y2="228.00" stroke="#1a1a1a" stroke-width="0.8"/>
<line x1="79.50" y1="245.20" x2="83.10" y2="245.20" stroke="#1a1a1a" stroke-width="0.8"/>
<text transform="translate(109.10,183.80) scale(1.0,1)" font-size="11.2" text-anchor="start" font-weight="bold" >G</text>
<text transform="translate(170.40,196.80) scale(0.96,1)" font-size="8.3" text-anchor="middle" font-weight="normal" class="t" >HCT</text>
<text transform="translate(122.30,245.30) rotate(-90)" font-size="8.9" class="yt" text-anchor="middle" textLength="24.5" lengthAdjust="spacingAndGlyphs">HCT (%)</text>
<line x1="143.50" y1="203.30" x2="143.50" y2="287.45" stroke="#2b2b2b" stroke-width="1.0"/>
<line x1="140.20" y1="287.00" x2="197.20" y2="287.00" stroke="#2b2b2b" stroke-width="1.1"/>
<line x1="140.20" y1="206.50" x2="143.50" y2="206.50" stroke="#2b2b2b" stroke-width="1.0"/>
<text transform="translate(137.30,209.40) scale(0.97,1)" font-size="8.2" text-anchor="end" font-weight="normal" class="t" >80</text>
<line x1="140.20" y1="226.62" x2="143.50" y2="226.62" stroke="#2b2b2b" stroke-width="1.0"/>
<text transform="translate(137.30,229.53) scale(0.97,1)" font-size="8.2" text-anchor="end" font-weight="normal" class="t" >60</text>
<line x1="140.20" y1="246.75" x2="143.50" y2="246.75" stroke="#2b2b2b" stroke-width="1.0"/>
<text transform="translate(137.30,249.65) scale(0.97,1)" font-size="8.2" text-anchor="end" font-weight="normal" class="t" >40</text>
<line x1="140.20" y1="266.88" x2="143.50" y2="266.88" stroke="#2b2b2b" stroke-width="1.0"/>
<text transform="translate(137.30,269.77) scale(0.97,1)" font-size="8.2" text-anchor="end" font-weight="normal" class="t" >20</text>
<line x1="140.20" y1="287.00" x2="143.50" y2="287.00" stroke="#2b2b2b" stroke-width="1.0"/>
<text transform="translate(137.30,289.90) scale(0.97,1)" font-size="8.2" text-anchor="end" font-weight="normal" class="t" >0</text>
<line x1="151.80" y1="287.00" x2="151.80" y2="289.80" stroke="#2b2b2b" stroke-width="0.9"/>
<text transform="translate(154.40,296.80) rotate(-45) scale(0.81,1)" font-size="8.8" class="t" text-anchor="end">WT</text>
<line x1="164.30" y1="287.00" x2="164.30" y2="289.80" stroke="#2b2b2b" stroke-width="0.9"/>
<text transform="translate(166.90,296.80) rotate(-45) scale(0.81,1)" font-size="8.8" class="t" text-anchor="end">E(M)</text>
<line x1="176.50" y1="287.00" x2="176.50" y2="289.80" stroke="#2b2b2b" stroke-width="0.9"/>
<text transform="translate(179.10,296.80) rotate(-45) scale(0.81,1)" font-size="8.8" class="t" text-anchor="end">Th3</text>
<line x1="188.80" y1="287.00" x2="188.80" y2="289.80" stroke="#2b2b2b" stroke-width="0.9"/>
<text transform="translate(191.40,296.80) rotate(-45) scale(0.81,1)" font-size="8.8" class="t" text-anchor="end">T-E(M)</text>
<circle cx="151.80" cy="229.00" r="2.45" fill="white" fill-opacity="0.35" stroke="#857fbd" stroke-width="0.9"/>
<circle cx="150.00" cy="238.50" r="2.45" fill="white" fill-opacity="0.35" stroke="#857fbd" stroke-width="0.9"/>
<circle cx="153.50" cy="239.00" r="2.45" fill="white" fill-opacity="0.35" stroke="#857fbd" stroke-width="0.9"/>
<circle cx="151.80" cy="242.00" r="2.45" fill="white" fill-opacity="0.35" stroke="#857fbd" stroke-width="0.9"/>
<circle cx="151.80" cy="236.00" r="2.65" fill="#918ac6" fill-opacity="0.92"/>
<circle cx="164.80" cy="224.50" r="2.45" fill="white" fill-opacity="0.35" stroke="#3b6699" stroke-width="0.9"/>
<circle cx="163.30" cy="227.50" r="2.45" fill="white" fill-opacity="0.35" stroke="#3b6699" stroke-width="0.9"/>
<circle cx="164.80" cy="231.50" r="2.65" fill="#1f4a7d" fill-opacity="0.92"/>
<circle cx="162.80" cy="237.00" r="2.45" fill="white" fill-opacity="0.35" stroke="#3b6699" stroke-width="0.9"/>
<circle cx="165.80" cy="238.50" r="2.45" fill="white" fill-opacity="0.35" stroke="#3b6699" stroke-width="0.9"/>
<circle cx="164.80" cy="239.50" r="2.65" fill="#1f4a7d" fill-opacity="0.92"/>
<circle cx="162.80" cy="242.00" r="2.45" fill="white" fill-opacity="0.35" stroke="#3b6699" stroke-width="0.9"/>
<circle cx="166.30" cy="244.50" r="2.65" fill="#1f4a7d" fill-opacity="0.92"/>
<circle cx="176.30" cy="240.60" r="2.45" fill="white" fill-opacity="0.35" stroke="#efa035" stroke-width="0.9"/>
<circle cx="175.70" cy="246.25" r="2.65" fill="#f0961c" fill-opacity="0.92"/>
<circle cx="177.80" cy="247.50" r="2.65" fill="#f0961c" fill-opacity="0.92"/>
<circle cx="174.70" cy="252.50" r="2.65" fill="#f0961c" fill-opacity="0.92"/>
<circle cx="177.80" cy="253.50" r="2.45" fill="white" fill-opacity="0.35" stroke="#efa035" stroke-width="0.9"/>
<circle cx="176.50" cy="255.00" r="2.65" fill="#f0961c" fill-opacity="0.92"/>
<circle cx="188.20" cy="243.75" r="2.45" fill="white" fill-opacity="0.35" stroke="#b91d40" stroke-width="0.9"/>
<circle cx="190.20" cy="246.00" r="2.45" fill="white" fill-opacity="0.35" stroke="#b91d40" stroke-width="0.9"/>
<circle cx="187.70" cy="250.00" r="2.65" fill="#c8102f" fill-opacity="0.92"/>
<circle cx="190.20" cy="251.50" r="2.65" fill="#c8102f" fill-opacity="0.92"/>
<circle cx="188.20" cy="255.60" r="2.65" fill="#c8102f" fill-opacity="0.92"/>
<circle cx="189.70" cy="257.50" r="2.65" fill="#c8102f" fill-opacity="0.92"/>
<circle cx="188.80" cy="269.40" r="2.45" fill="white" fill-opacity="0.35" stroke="#b91d40" stroke-width="0.9"/>
<line x1="147.05" y1="236.50" x2="156.55" y2="236.50" stroke="#151515" stroke-width="1.15"/>
<line x1="151.80" y1="233.00" x2="151.80" y2="242.50" stroke="#1a1a1a" stroke-width="0.8"/>
<line x1="150.00" y1="233.00" x2="153.60" y2="233.00" stroke="#1a1a1a" stroke-width="0.8"/>
<line x1="150.00" y1="242.50" x2="153.60" y2="242.50" stroke="#1a1a1a" stroke-width="0.8"/>
<line x1="159.55" y1="235.50" x2="169.05" y2="235.50" stroke="#151515" stroke-width="1.15"/>
<line x1="164.30" y1="231.50" x2="164.30" y2="239.50" stroke="#1a1a1a" stroke-width="0.8"/>
<line x1="162.50" y1="231.50" x2="166.10" y2="231.50" stroke="#1a1a1a" stroke-width="0.8"/>
<line x1="162.50" y1="239.50" x2="166.10" y2="239.50" stroke="#1a1a1a" stroke-width="0.8"/>
<line x1="171.50" y1="250.50" x2="181.50" y2="250.50" stroke="#151515" stroke-width="1.15"/>
<line x1="176.50" y1="246.90" x2="176.50" y2="254.40" stroke="#1a1a1a" stroke-width="0.8"/>
<line x1="174.70" y1="246.90" x2="178.30" y2="246.90" stroke="#1a1a1a" stroke-width="0.8"/>
<line x1="174.70" y1="254.40" x2="178.30" y2="254.40" stroke="#1a1a1a" stroke-width="0.8"/>
<line x1="184.10" y1="252.50" x2="193.50" y2="252.50" stroke="#151515" stroke-width="1.15"/>
<line x1="188.80" y1="247.50" x2="188.80" y2="256.50" stroke="#1a1a1a" stroke-width="0.8"/>
<line x1="187.00" y1="247.50" x2="190.60" y2="247.50" stroke="#1a1a1a" stroke-width="0.8"/>
<line x1="187.00" y1="256.50" x2="190.60" y2="256.50" stroke="#1a1a1a" stroke-width="0.8"/>
<text transform="translate(213.75,183.80) scale(1.0,1)" font-size="11.2" text-anchor="start" font-weight="bold" >H</text>
<text transform="translate(282.10,196.70) scale(0.96,1)" font-size="8.3" text-anchor="middle" font-weight="normal" class="t" >Body Weight</text>
<text transform="translate(234.20,245.70) rotate(-90)" font-size="8.9" class="yt" text-anchor="middle" textLength="29.5" lengthAdjust="spacingAndGlyphs">Weight (g)</text>
<line x1="255.50" y1="203.30" x2="255.50" y2="287.35" stroke="#2b2b2b" stroke-width="1.0"/>
<line x1="252.20" y1="286.90" x2="308.80" y2="286.90" stroke="#2b2b2b" stroke-width="1.1"/>
<line x1="252.20" y1="206.40" x2="255.50" y2="206.40" stroke="#2b2b2b" stroke-width="1.0"/>
<text transform="translate(249.30,209.30) scale(0.97,1)" font-size="8.2" text-anchor="end" font-weight="normal" class="t" >40</text>
<line x1="252.20" y1="226.53" x2="255.50" y2="226.53" stroke="#2b2b2b" stroke-width="1.0"/>
<text transform="translate(249.30,229.43) scale(0.97,1)" font-size="8.2" text-anchor="end" font-weight="normal" class="t" >30</text>
<line x1="252.20" y1="246.65" x2="255.50" y2="246.65" stroke="#2b2b2b" stroke-width="1.0"/>
<text transform="translate(249.30,249.55) scale(0.97,1)" font-size="8.2" text-anchor="end" font-weight="normal" class="t" >20</text>
<line x1="252.20" y1="266.77" x2="255.50" y2="266.77" stroke="#2b2b2b" stroke-width="1.0"/>
<text transform="translate(249.30,269.67) scale(0.97,1)" font-size="8.2" text-anchor="end" font-weight="normal" class="t" >10</text>
<line x1="252.20" y1="286.90" x2="255.50" y2="286.90" stroke="#2b2b2b" stroke-width="1.0"/>
<text transform="translate(249.30,289.80) scale(0.97,1)" font-size="8.2" text-anchor="end" font-weight="normal" class="t" >0</text>
<line x1="262.50" y1="286.90" x2="262.50" y2="289.70" stroke="#2b2b2b" stroke-width="0.9"/>
<text transform="translate(265.10,296.70) rotate(-45) scale(0.81,1)" font-size="8.8" class="t" text-anchor="end">WT</text>
<line x1="274.80" y1="286.90" x2="274.80" y2="289.70" stroke="#2b2b2b" stroke-width="0.9"/>
<text transform="translate(277.40,296.70) rotate(-45) scale(0.81,1)" font-size="8.8" class="t" text-anchor="end">E(M)</text>
<line x1="287.20" y1="286.90" x2="287.20" y2="289.70" stroke="#2b2b2b" stroke-width="0.9"/>
<text transform="translate(289.80,296.70) rotate(-45) scale(0.81,1)" font-size="8.8" class="t" text-anchor="end">Th3</text>
<line x1="299.60" y1="286.90" x2="299.60" y2="289.70" stroke="#2b2b2b" stroke-width="0.9"/>
<text transform="translate(302.20,296.70) rotate(-45) scale(0.81,1)" font-size="8.8" class="t" text-anchor="end">T-E(M)</text>
<circle cx="262.50" cy="223.70" r="2.65" fill="#918ac6" fill-opacity="0.92"/>
<circle cx="261.80" cy="226.60" r="2.65" fill="#918ac6" fill-opacity="0.92"/>
<circle cx="261.30" cy="231.20" r="2.65" fill="#918ac6" fill-opacity="0.92"/>
<circle cx="263.80" cy="232.90" r="2.65" fill="#918ac6" fill-opacity="0.92"/>
<circle cx="260.80" cy="241.00" r="2.45" fill="white" fill-opacity="0.35" stroke="#857fbd" stroke-width="0.9"/>
<circle cx="263.80" cy="242.50" r="2.45" fill="white" fill-opacity="0.35" stroke="#857fbd" stroke-width="0.9"/>
<circle cx="261.80" cy="244.50" r="2.45" fill="white" fill-opacity="0.35" stroke="#857fbd" stroke-width="0.9"/>
<circle cx="262.30" cy="248.50" r="2.65" fill="#918ac6" fill-opacity="0.92"/>
<circle cx="274.80" cy="219.75" r="2.65" fill="#1f4a7d" fill-opacity="0.92"/>
<circle cx="275.30" cy="226.50" r="2.65" fill="#1f4a7d" fill-opacity="0.92"/>
<circle cx="274.30" cy="229.00" r="2.65" fill="#1f4a7d" fill-opacity="0.92"/>
<circle cx="275.30" cy="232.00" r="2.65" fill="#1f4a7d" fill-opacity="0.92"/>
<circle cx="274.30" cy="235.00" r="2.65" fill="#1f4a7d" fill-opacity="0.92"/>
<circle cx="275.20" cy="238.00" r="2.65" fill="#1f4a7d" fill-opacity="0.92"/>
<circle cx="274.30" cy="241.00" r="2.65" fill="#1f4a7d" fill-opacity="0.92"/>
<circle cx="275.30" cy="243.50" r="2.45" fill="white" fill-opacity="0.35" stroke="#3b6699" stroke-width="0.9"/>
<circle cx="274.50" cy="246.00" r="2.45" fill="white" fill-opacity="0.35" stroke="#3b6699" stroke-width="0.9"/>
<circle cx="275.00" cy="248.00" r="2.45" fill="white" fill-opacity="0.35" stroke="#3b6699" stroke-width="0.9"/>
<circle cx="287.20" cy="228.50" r="2.65" fill="#f0961c" fill-opacity="0.92"/>
<circle cx="286.20" cy="231.00" r="2.65" fill="#f0961c" fill-opacity="0.92"/>
<circle cx="287.70" cy="233.50" r="2.65" fill="#f0961c" fill-opacity="0.92"/>
<circle cx="286.70" cy="236.00" r="2.65" fill="#f0961c" fill-opacity="0.92"/>
<circle cx="287.70" cy="240.50" r="2.65" fill="#f0961c" fill-opacity="0.92"/>
<circle cx="285.70" cy="244.50" r="2.45" fill="white" fill-opacity="0.35" stroke="#efa035" stroke-width="0.9"/>
<circle cx="288.70" cy="245.00" r="2.45" fill="white" fill-opacity="0.35" stroke="#efa035" stroke-width="0.9"/>
<circle cx="299.60" cy="226.50" r="2.65" fill="#c8102f" fill-opacity="0.92"/>
<circle cx="299.60" cy="234.00" r="2.65" fill="#c8102f" fill-opacity="0.92"/>
<circle cx="298.60" cy="236.00" r="2.65" fill="#c8102f" fill-opacity="0.92"/>
<circle cx="300.60" cy="237.00" r="2.65" fill="#c8102f" fill-opacity="0.92"/>
<circle cx="298.10" cy="242.00" r="2.45" fill="white" fill-opacity="0.35" stroke="#b91d40" stroke-width="0.9"/>
<circle cx="301.10" cy="243.00" r="2.45" fill="white" fill-opacity="0.35" stroke="#b91d40" stroke-width="0.9"/>
<circle cx="298.60" cy="245.50" r="2.45" fill="white" fill-opacity="0.35" stroke="#b91d40" stroke-width="0.9"/>
<circle cx="300.60" cy="246.50" r="2.45" fill="white" fill-opacity="0.35" stroke="#b91d40" stroke-width="0.9"/>
<line x1="257.80" y1="238.50" x2="267.20" y2="238.50" stroke="#151515" stroke-width="1.15"/>
<line x1="262.50" y1="230.00" x2="262.50" y2="246.00" stroke="#1a1a1a" stroke-width="0.8"/>
<line x1="260.70" y1="230.00" x2="264.30" y2="230.00" stroke="#1a1a1a" stroke-width="0.8"/>
<line x1="260.70" y1="246.00" x2="264.30" y2="246.00" stroke="#1a1a1a" stroke-width="0.8"/>
<line x1="269.80" y1="238.50" x2="279.80" y2="238.50" stroke="#151515" stroke-width="1.15"/>
<line x1="274.80" y1="232.00" x2="274.80" y2="244.50" stroke="#1a1a1a" stroke-width="0.8"/>
<line x1="273.00" y1="232.00" x2="276.60" y2="232.00" stroke="#1a1a1a" stroke-width="0.8"/>
<line x1="273.00" y1="244.50" x2="276.60" y2="244.50" stroke="#1a1a1a" stroke-width="0.8"/>
<line x1="282.20" y1="238.50" x2="292.20" y2="238.50" stroke="#151515" stroke-width="1.15"/>
<line x1="287.20" y1="233.00" x2="287.20" y2="244.00" stroke="#1a1a1a" stroke-width="0.8"/>
<line x1="285.40" y1="233.00" x2="289.00" y2="233.00" stroke="#1a1a1a" stroke-width="0.8"/>
<line x1="285.40" y1="244.00" x2="289.00" y2="244.00" stroke="#1a1a1a" stroke-width="0.8"/>
<line x1="294.85" y1="239.50" x2="304.35" y2="239.50" stroke="#151515" stroke-width="1.15"/>
<line x1="299.60" y1="235.50" x2="299.60" y2="242.50" stroke="#1a1a1a" stroke-width="0.8"/>
<line x1="297.80" y1="235.50" x2="301.40" y2="235.50" stroke="#1a1a1a" stroke-width="0.8"/>
<line x1="297.80" y1="242.50" x2="301.40" y2="242.50" stroke="#1a1a1a" stroke-width="0.8"/>
<text transform="translate(327.75,183.80) scale(1.0,1)" font-size="11.2" text-anchor="start" font-weight="bold" >I</text>
<text transform="translate(387.20,196.80) scale(0.96,1)" font-size="8.3" text-anchor="middle" font-weight="normal" class="t" >Liver</text>
<text transform="translate(346.00,245.60) rotate(-90)" font-size="8.9" class="yt" text-anchor="middle" textLength="46" lengthAdjust="spacingAndGlyphs">% Body weight</text>
<line x1="360.50" y1="203.30" x2="360.50" y2="287.35" stroke="#2b2b2b" stroke-width="1.0"/>
<line x1="357.20" y1="286.90" x2="413.80" y2="286.90" stroke="#2b2b2b" stroke-width="1.1"/>
<line x1="357.20" y1="206.30" x2="360.50" y2="206.30" stroke="#2b2b2b" stroke-width="1.0"/>
<text transform="translate(354.30,209.20) scale(0.97,1)" font-size="8.2" text-anchor="end" font-weight="normal" class="t" >6</text>
<line x1="357.20" y1="233.17" x2="360.50" y2="233.17" stroke="#2b2b2b" stroke-width="1.0"/>
<text transform="translate(354.30,236.07) scale(0.97,1)" font-size="8.2" text-anchor="end" font-weight="normal" class="t" >4</text>
<line x1="357.20" y1="260.03" x2="360.50" y2="260.03" stroke="#2b2b2b" stroke-width="1.0"/>
<text transform="translate(354.30,262.93) scale(0.97,1)" font-size="8.2" text-anchor="end" font-weight="normal" class="t" >2</text>
<line x1="357.20" y1="286.90" x2="360.50" y2="286.90" stroke="#2b2b2b" stroke-width="1.0"/>
<text transform="translate(354.30,289.80) scale(0.97,1)" font-size="8.2" text-anchor="end" font-weight="normal" class="t" >0</text>
<line x1="368.40" y1="286.90" x2="368.40" y2="289.70" stroke="#2b2b2b" stroke-width="0.9"/>
<text transform="translate(371.00,296.70) rotate(-45) scale(0.81,1)" font-size="8.8" class="t" text-anchor="end">WT</text>
<line x1="380.70" y1="286.90" x2="380.70" y2="289.70" stroke="#2b2b2b" stroke-width="0.9"/>
<text transform="translate(383.30,296.70) rotate(-45) scale(0.81,1)" font-size="8.8" class="t" text-anchor="end">E(M)</text>
<line x1="393.10" y1="286.90" x2="393.10" y2="289.70" stroke="#2b2b2b" stroke-width="0.9"/>
<text transform="translate(395.70,296.70) rotate(-45) scale(0.81,1)" font-size="8.8" class="t" text-anchor="end">Th3</text>
<line x1="405.40" y1="286.90" x2="405.40" y2="289.70" stroke="#2b2b2b" stroke-width="0.9"/>
<text transform="translate(408.00,296.70) rotate(-45) scale(0.81,1)" font-size="8.8" class="t" text-anchor="end">T-E(M)</text>
<circle cx="368.40" cy="217.50" r="2.65" fill="#918ac6" fill-opacity="0.92"/>
<circle cx="368.40" cy="224.90" r="2.65" fill="#918ac6" fill-opacity="0.92"/>
<circle cx="368.90" cy="228.00" r="2.45" fill="white" fill-opacity="0.35" stroke="#857fbd" stroke-width="0.9"/>
<circle cx="367.90" cy="233.30" r="2.45" fill="white" fill-opacity="0.35" stroke="#857fbd" stroke-width="0.9"/>
<circle cx="368.40" cy="236.80" r="2.45" fill="white" fill-opacity="0.35" stroke="#857fbd" stroke-width="0.9"/>
<circle cx="381.50" cy="222.80" r="2.45" fill="white" fill-opacity="0.35" stroke="#3b6699" stroke-width="0.9"/>
<circle cx="379.50" cy="226.50" r="2.45" fill="white" fill-opacity="0.35" stroke="#3b6699" stroke-width="0.9"/>
<circle cx="382.00" cy="227.50" r="2.45" fill="white" fill-opacity="0.35" stroke="#3b6699" stroke-width="0.9"/>
<circle cx="380.70" cy="230.50" r="2.65" fill="#1e5050" fill-opacity="0.92"/>
<circle cx="378.50" cy="231.80" r="2.45" fill="white" fill-opacity="0.35" stroke="#3b6699" stroke-width="0.9"/>
<circle cx="383.00" cy="232.00" r="2.45" fill="white" fill-opacity="0.35" stroke="#3b6699" stroke-width="0.9"/>
<circle cx="379.00" cy="236.50" r="2.45" fill="white" fill-opacity="0.35" stroke="#3b6699" stroke-width="0.9"/>
<circle cx="382.50" cy="237.50" r="2.45" fill="white" fill-opacity="0.35" stroke="#3b6699" stroke-width="0.9"/>
<circle cx="381.00" cy="242.50" r="2.45" fill="white" fill-opacity="0.35" stroke="#3b6699" stroke-width="0.9"/>
<circle cx="379.50" cy="244.60" r="2.45" fill="white" fill-opacity="0.35" stroke="#3b6699" stroke-width="0.9"/>
<circle cx="381.00" cy="247.30" r="2.45" fill="white" fill-opacity="0.35" stroke="#3b6699" stroke-width="0.9"/>
<circle cx="393.10" cy="219.90" r="2.65" fill="#f0961c" fill-opacity="0.92"/>
<circle cx="393.60" cy="222.50" r="2.65" fill="#f0961c" fill-opacity="0.92"/>
<circle cx="392.60" cy="226.00" r="2.65" fill="#f0961c" fill-opacity="0.92"/>
<circle cx="393.10" cy="228.40" r="2.65" fill="#f0961c" fill-opacity="0.92"/>
<circle cx="405.40" cy="219.90" r="2.65" fill="#c8102f" fill-opacity="0.92"/>
<circle cx="405.90" cy="222.50" r="2.65" fill="#c8102f" fill-opacity="0.92"/>
<circle cx="404.90" cy="225.00" r="2.45" fill="white" fill-opacity="0.35" stroke="#b91d40" stroke-width="0.9"/>
<circle cx="405.80" cy="228.40" r="2.45" fill="white" fill-opacity="0.35" stroke="#b91d40" stroke-width="0.9"/>
<circle cx="405.40" cy="233.00" r="2.45" fill="white" fill-opacity="0.35" stroke="#b91d40" stroke-width="0.9"/>
<line x1="363.40" y1="229.50" x2="373.40" y2="229.50" stroke="#151515" stroke-width="1.15"/>
<line x1="368.40" y1="224.90" x2="368.40" y2="234.00" stroke="#1a1a1a" stroke-width="0.8"/>
<line x1="366.60" y1="224.90" x2="370.20" y2="224.90" stroke="#1a1a1a" stroke-width="0.8"/>
<line x1="366.60" y1="234.00" x2="370.20" y2="234.00" stroke="#1a1a1a" stroke-width="0.8"/>
<line x1="375.70" y1="234.50" x2="385.70" y2="234.50" stroke="#151515" stroke-width="1.15"/>
<line x1="380.70" y1="228.10" x2="380.70" y2="240.90" stroke="#1a1a1a" stroke-width="0.8"/>
<line x1="378.90" y1="228.10" x2="382.50" y2="228.10" stroke="#1a1a1a" stroke-width="0.8"/>
<line x1="378.90" y1="240.90" x2="382.50" y2="240.90" stroke="#1a1a1a" stroke-width="0.8"/>
<line x1="388.10" y1="224.50" x2="398.10" y2="224.50" stroke="#151515" stroke-width="1.15"/>
<line x1="393.10" y1="222.50" x2="393.10" y2="227.50" stroke="#1a1a1a" stroke-width="0.8"/>
<line x1="391.30" y1="222.50" x2="394.90" y2="222.50" stroke="#1a1a1a" stroke-width="0.8"/>
<line x1="391.30" y1="227.50" x2="394.90" y2="227.50" stroke="#1a1a1a" stroke-width="0.8"/>
<line x1="400.40" y1="226.50" x2="410.40" y2="226.50" stroke="#151515" stroke-width="1.15"/>
<line x1="405.40" y1="222.50" x2="405.40" y2="229.50" stroke="#1a1a1a" stroke-width="0.8"/>
<line x1="403.60" y1="222.50" x2="407.20" y2="222.50" stroke="#1a1a1a" stroke-width="0.8"/>
<line x1="403.60" y1="229.50" x2="407.20" y2="229.50" stroke="#1a1a1a" stroke-width="0.8"/>
<text transform="translate(434.00,183.80) scale(1.0,1)" font-size="11.2" text-anchor="start" font-weight="bold" >J</text>
<text transform="translate(486.50,196.80) scale(0.96,1)" font-size="8.3" text-anchor="middle" font-weight="normal" class="t" >Spleen</text>
<text transform="translate(445.50,245.60) rotate(-90)" font-size="8.9" class="yt" text-anchor="middle" textLength="46" lengthAdjust="spacingAndGlyphs">% Body weight</text>
<line x1="460.00" y1="203.30" x2="460.00" y2="287.35" stroke="#2b2b2b" stroke-width="1.0"/>
<line x1="456.70" y1="286.90" x2="513.00" y2="286.90" stroke="#2b2b2b" stroke-width="1.1"/>
<line x1="456.70" y1="206.30" x2="460.00" y2="206.30" stroke="#2b2b2b" stroke-width="1.0"/>
<text transform="translate(453.80,209.20) scale(0.97,1)" font-size="8.2" text-anchor="end" font-weight="normal" class="t" >4</text>
<line x1="456.70" y1="226.45" x2="460.00" y2="226.45" stroke="#2b2b2b" stroke-width="1.0"/>
<text transform="translate(453.80,229.35) scale(0.97,1)" font-size="8.2" text-anchor="end" font-weight="normal" class="t" >3</text>
<line x1="456.70" y1="246.60" x2="460.00" y2="246.60" stroke="#2b2b2b" stroke-width="1.0"/>
<text transform="translate(453.80,249.50) scale(0.97,1)" font-size="8.2" text-anchor="end" font-weight="normal" class="t" >2</text>
<line x1="456.70" y1="266.75" x2="460.00" y2="266.75" stroke="#2b2b2b" stroke-width="1.0"/>
<text transform="translate(453.80,269.65) scale(0.97,1)" font-size="8.2" text-anchor="end" font-weight="normal" class="t" >1</text>
<line x1="456.70" y1="286.90" x2="460.00" y2="286.90" stroke="#2b2b2b" stroke-width="1.0"/>
<text transform="translate(453.80,289.80) scale(0.97,1)" font-size="8.2" text-anchor="end" font-weight="normal" class="t" >0</text>
<line x1="466.60" y1="286.90" x2="466.60" y2="289.70" stroke="#2b2b2b" stroke-width="0.9"/>
<text transform="translate(469.20,296.70) rotate(-45) scale(0.81,1)" font-size="8.8" class="t" text-anchor="end">WT</text>
<line x1="478.90" y1="286.90" x2="478.90" y2="289.70" stroke="#2b2b2b" stroke-width="0.9"/>
<text transform="translate(481.50,296.70) rotate(-45) scale(0.81,1)" font-size="8.8" class="t" text-anchor="end">E(M)</text>
<line x1="491.20" y1="286.90" x2="491.20" y2="289.70" stroke="#2b2b2b" stroke-width="0.9"/>
<text transform="translate(493.80,296.70) rotate(-45) scale(0.81,1)" font-size="8.8" class="t" text-anchor="end">Th3</text>
<line x1="503.60" y1="286.90" x2="503.60" y2="289.70" stroke="#2b2b2b" stroke-width="0.9"/>
<text transform="translate(506.20,296.70) rotate(-45) scale(0.81,1)" font-size="8.8" class="t" text-anchor="end">T-E(M)</text>
<circle cx="466.60" cy="276.50" r="2.65" fill="#918ac6" fill-opacity="0.92"/>
<circle cx="467.10" cy="278.00" r="2.65" fill="#918ac6" fill-opacity="0.92"/>
<circle cx="466.10" cy="280.00" r="2.45" fill="white" fill-opacity="0.35" stroke="#857fbd" stroke-width="0.9"/>
<circle cx="466.60" cy="281.50" r="2.65" fill="#918ac6" fill-opacity="0.92"/>
<circle cx="478.90" cy="276.00" r="2.45" fill="white" fill-opacity="0.35" stroke="#3b6699" stroke-width="0.9"/>
<circle cx="479.40" cy="278.00" r="2.65" fill="#1f5a6a" fill-opacity="0.92"/>
<circle cx="478.40" cy="280.00" r="2.65" fill="#1f5a6a" fill-opacity="0.92"/>
<circle cx="478.90" cy="281.50" r="2.65" fill="#1f5a6a" fill-opacity="0.92"/>
<circle cx="491.20" cy="236.40" r="2.45" fill="white" fill-opacity="0.35" stroke="#efa035" stroke-width="0.9"/>
<circle cx="490.00" cy="239.50" r="2.45" fill="white" fill-opacity="0.35" stroke="#efa035" stroke-width="0.9"/>
<circle cx="492.40" cy="243.90" r="2.45" fill="white" fill-opacity="0.35" stroke="#efa035" stroke-width="0.9"/>
<circle cx="490.40" cy="246.50" r="2.65" fill="#f0961c" fill-opacity="0.92"/>
<circle cx="492.00" cy="248.50" r="2.65" fill="#f0961c" fill-opacity="0.92"/>
<circle cx="490.00" cy="251.40" r="2.65" fill="#f0961c" fill-opacity="0.92"/>
<circle cx="491.60" cy="253.90" r="2.65" fill="#f0961c" fill-opacity="0.92"/>
<circle cx="490.30" cy="256.40" r="2.65" fill="#f0961c" fill-opacity="0.92"/>
<circle cx="503.00" cy="227.00" r="2.45" fill="white" fill-opacity="0.35" stroke="#b91d40" stroke-width="0.9"/>
<circle cx="505.50" cy="228.30" r="2.45" fill="white" fill-opacity="0.35" stroke="#b91d40" stroke-width="0.9"/>
<circle cx="501.40" cy="232.00" r="2.45" fill="white" fill-opacity="0.35" stroke="#b91d40" stroke-width="0.9"/>
<circle cx="505.90" cy="233.90" r="2.45" fill="white" fill-opacity="0.35" stroke="#b91d40" stroke-width="0.9"/>
<circle cx="503.00" cy="235.00" r="2.45" fill="white" fill-opacity="0.35" stroke="#b91d40" stroke-width="0.9"/>
<circle cx="502.00" cy="240.75" r="2.65" fill="#c8102f" fill-opacity="0.92"/>
<circle cx="505.80" cy="242.00" r="2.65" fill="#c8102f" fill-opacity="0.92"/>
<circle cx="503.90" cy="244.50" r="2.65" fill="#c8102f" fill-opacity="0.92"/>
<circle cx="501.50" cy="247.60" r="2.65" fill="#c8102f" fill-opacity="0.92"/>
<circle cx="500.40" cy="248.90" r="2.65" fill="#c8102f" fill-opacity="0.92"/>
<line x1="462.40" y1="279.50" x2="470.80" y2="279.50" stroke="#151515" stroke-width="1.15"/>
<line x1="466.60" y1="278.00" x2="466.60" y2="281.00" stroke="#1a1a1a" stroke-width="0.8"/>
<line x1="464.80" y1="278.00" x2="468.40" y2="278.00" stroke="#1a1a1a" stroke-width="0.8"/>
<line x1="464.80" y1="281.00" x2="468.40" y2="281.00" stroke="#1a1a1a" stroke-width="0.8"/>
<line x1="474.70" y1="279.50" x2="483.10" y2="279.50" stroke="#151515" stroke-width="1.15"/>
<line x1="478.90" y1="278.00" x2="478.90" y2="280.50" stroke="#1a1a1a" stroke-width="0.8"/>
<line x1="477.10" y1="278.00" x2="480.70" y2="278.00" stroke="#1a1a1a" stroke-width="0.8"/>
<line x1="477.10" y1="280.50" x2="480.70" y2="280.50" stroke="#1a1a1a" stroke-width="0.8"/>
<line x1="486.20" y1="248.50" x2="496.20" y2="248.50" stroke="#151515" stroke-width="1.15"/>
<line x1="491.20" y1="240.75" x2="491.20" y2="254.75" stroke="#1a1a1a" stroke-width="0.8"/>
<line x1="489.40" y1="240.75" x2="493.00" y2="240.75" stroke="#1a1a1a" stroke-width="0.8"/>
<line x1="489.40" y1="254.75" x2="493.00" y2="254.75" stroke="#1a1a1a" stroke-width="0.8"/>
<line x1="498.60" y1="237.50" x2="508.60" y2="237.50" stroke="#151515" stroke-width="1.15"/>
<line x1="503.60" y1="232.50" x2="503.60" y2="243.50" stroke="#1a1a1a" stroke-width="0.8"/>
<line x1="501.80" y1="232.50" x2="505.40" y2="232.50" stroke="#1a1a1a" stroke-width="0.8"/>
<line x1="501.80" y1="243.50" x2="505.40" y2="243.50" stroke="#1a1a1a" stroke-width="0.8"/>
<polyline points="491.20,228.75 491.20,217.00 503.60,217.00 503.60,221.25" fill="none" stroke="#2b2b2b" stroke-width="0.9"/>
<circle cx="495.95" cy="213.50" r="0.95" fill="#222"/>
<circle cx="498.85" cy="213.50" r="0.95" fill="#222"/>
</svg></div></body></html>
